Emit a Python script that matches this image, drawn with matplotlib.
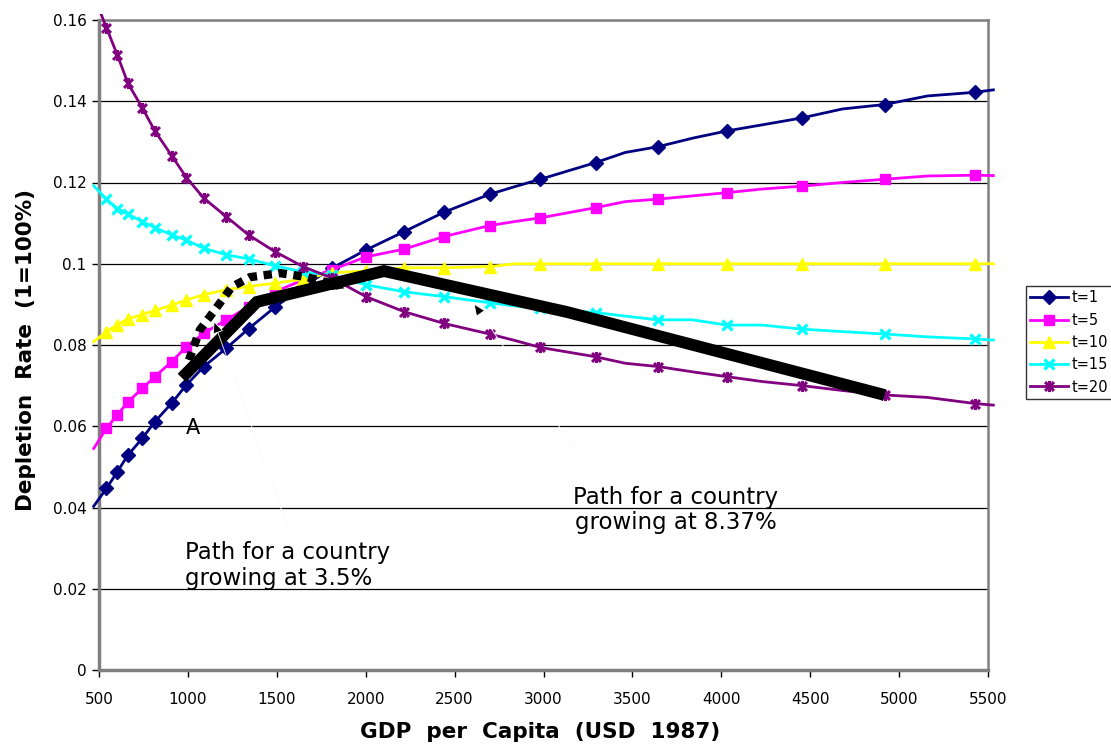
import matplotlib
matplotlib.use("Agg")
import matplotlib.pyplot as plt
from matplotlib.path import Path
from matplotlib.patches import Rectangle

plt.rcParams['font.family'] = ['DejaVu Sans']

# GDP per capita grid (USD 1987) shared by all series
gdp = [470, 542, 603, 663, 743, 814, 909, 992, 1090, 1216, 1341, 1489, 1647,
       1809, 2002, 2216, 2441, 2697, 2840, 2982, 3293, 3460, 3643, 3837, 4032,
       4231, 4454, 4681, 4919, 5159, 5425, 5530]
# grid points that carry a marker
marked = [i for i in range(len(gdp)) if i not in (0, 18, 21, 23, 25, 27, 29, 31)]

rate_t1 = [0.0403, 0.0447, 0.0488, 0.0529, 0.0570, 0.0611, 0.0657, 0.0702, 0.0747,
           0.0792, 0.0840, 0.0893, 0.0943, 0.0989, 0.1034, 0.1079, 0.1127, 0.1171,
           0.1190, 0.1208, 0.1249, 0.1274, 0.1288, 0.1309, 0.1327, 0.1342, 0.1359,
           0.1381, 0.1392, 0.1413, 0.1422, 0.1428]
rate_t5 = [0.0545, 0.0595, 0.0628, 0.0660, 0.0693, 0.0722, 0.0759, 0.0796, 0.0829,
           0.0862, 0.0894, 0.0931, 0.0960, 0.0985, 0.1017, 0.1036, 0.1067, 0.1094,
           0.1104, 0.1113, 0.1138, 0.1153, 0.1159, 0.1167, 0.1175, 0.1184, 0.1191,
           0.1200, 0.1208, 0.1216, 0.1218, 0.1217]
rate_t10 = [0.0808, 0.0833, 0.0850, 0.0864, 0.0875, 0.0885, 0.0898, 0.0911, 0.0924,
            0.0936, 0.0944, 0.0952, 0.0962, 0.0978, 0.0982, 0.0990, 0.0990, 0.0993,
            0.1000, 0.1000, 0.1000, 0.1000, 0.1000, 0.1000, 0.1000, 0.1000, 0.1000,
            0.1000, 0.1000, 0.1000, 0.1000, 0.1000]
rate_t15 = [0.1192, 0.1159, 0.1136, 0.1122, 0.1104, 0.1089, 0.1071, 0.1058, 0.1038,
            0.1022, 0.1012, 0.0995, 0.0980, 0.0972, 0.0948, 0.0931, 0.0919, 0.0904,
            0.0896, 0.0890, 0.0880, 0.0871, 0.0862, 0.0862, 0.0849, 0.0849, 0.0839,
            0.0833, 0.0827, 0.0820, 0.0815, 0.0812]
rate_t20 = [0.1660, 0.1581, 0.1514, 0.1444, 0.1384, 0.1327, 0.1266, 0.1212, 0.1161,
            0.1116, 0.1071, 0.1030, 0.0993, 0.0965, 0.0919, 0.0882, 0.0853, 0.0827,
            0.0811, 0.0794, 0.0771, 0.0755, 0.0747, 0.0734, 0.0722, 0.0710, 0.0700,
            0.0688, 0.0677, 0.0671, 0.0656, 0.0652]

series_labels = ['t=1', 't=5', 't=10', 't=15', 't=20']

# growth paths
path_fast_gdp = [966, 1388, 2103, 3134, 4918]
path_fast_rate = [0.0719, 0.0906, 0.0982, 0.0881, 0.0677]
path_slow_gdp = [1006, 1067, 1151, 1247, 1349, 1518, 1670, 1850]
path_slow_rate = [0.0763, 0.0837, 0.0886, 0.0943, 0.0967, 0.0977, 0.0967, 0.0946]

y_ticks = [0, 0.02, 0.04, 0.06, 0.08, 0.1, 0.12, 0.14, 0.16]
y_tick_labels = ['0', '0.02', '0.04', '0.06', '0.08', '0.1', '0.12', '0.14', '0.16']
x_ticks = [500, 1000, 1500, 2000, 2500, 3000, 3500, 4000, 4500, 5000, 5500]

# asterisk-like marker: an x with a vertical stroke
star_path = Path([(-1, -1), (1, 1), (-1, 1), (1, -1), (0, -1.25), (0, 1.25)],
                 [Path.MOVETO, Path.LINETO, Path.MOVETO, Path.LINETO,
                  Path.MOVETO, Path.LINETO])

styles = [
    dict(color='#000080', marker='D', ms=7.5, mew=1.0),
    dict(color='#FF00FF', marker='s', ms=7.0, mew=1.0),
    dict(color='#FFFF00', marker='^', ms=8.5, mew=1.0),
    dict(color='#00FFFF', marker='x', ms=7.5, mew=2.4),
    dict(color='#800080', marker=star_path, ms=8, mew=2.2),
]

fig = plt.figure(figsize=(11.11, 7.44), dpi=100)
ax = fig.add_axes([99 / 1111, 1 - 670 / 744, 889 / 1111, 650 / 744])

clip_rect = Rectangle((462, -0.01), 5075, 0.1715, transform=ax.transData)

for vals, lab, st in zip([rate_t1, rate_t5, rate_t10, rate_t15, rate_t20],
                         series_labels, styles):
    ln, = ax.plot(gdp, vals, color=st['color'], lw=2.0, marker=st['marker'],
                  ms=st['ms'], mew=st['mew'], mec=st['color'], mfc=st['color'],
                  markevery=marked, label=lab, clip_on=True, zorder=3)
    ln.set_clip_path(clip_rect)

# growth paths
ax.plot(path_fast_gdp, path_fast_rate, color='black', lw=8.5,
        solid_joinstyle='miter', solid_capstyle='butt', zorder=6)
ax.plot(path_slow_gdp, path_slow_rate, color='black', lw=6,
        linestyle=(0, (1.0, 0.8)), dash_capstyle='butt', zorder=6)
ax.annotate('', xy=(1895, 0.0937), xytext=(1800, 0.0952),
            arrowprops=dict(arrowstyle='-|>,head_length=0.9,head_width=0.45',
                            fc='black', ec='none', lw=0), zorder=7)

# leader arrows from the labels
ax.annotate('', xy=(1140, 0.0866), xytext=(1574, 0.0337),
            arrowprops=dict(arrowstyle='-|>,head_length=0.8,head_width=0.35',
                            fc='black', ec='#fafafa', lw=0.6), zorder=7)
ax.annotate('', xy=(2598, 0.0908), xytext=(3246, 0.0500),
            arrowprops=dict(arrowstyle='-|>,head_length=0.8,head_width=0.35',
                            fc='black', ec='#fafafa', lw=0.6), zorder=7)

ax.text(1029, 0.0596, 'A', fontsize=15, ha='center', va='center', zorder=8)
ax.text(983, 0.0258, 'Path for a country\ngrowing at 3.5%', fontsize=16.5,
        ha='left', va='center', linespacing=1.15, zorder=8)
ax.text(3742, 0.0394, 'Path for a country\ngrowing at 8.37%', fontsize=16.5,
        ha='center', va='center', linespacing=1.15, zorder=8)

ax.set_xlim(500, 5500)
ax.set_ylim(0, 0.16)
ax.set_xticks(x_ticks)
ax.set_xticklabels([str(v) for v in x_ticks])
ax.set_yticks(y_ticks)
ax.set_yticklabels(y_tick_labels)
ax.tick_params(axis='both', direction='out', length=5, width=1, color='black',
               labelsize=11, pad=4)
ax.tick_params(axis='x', pad=11)

ax.grid(axis='y', color='black', lw=0.9, zorder=1)
ax.set_axisbelow(True)
for side in ['left', 'bottom']:
    ax.spines[side].set_color('#808080')
    ax.spines[side].set_linewidth(2.5)
for side in ['top', 'right']:
    ax.spines[side].set_color('#808080')
    ax.spines[side].set_linewidth(1.8)

fig.text(540 / 1111, 1 - 732 / 744, 'GDP  per  Capita  (USD  1987)', fontsize=15.5,
         fontweight='bold', ha='center', va='center')
fig.text(26 / 1111, 1 - 350 / 744, 'Depletion  Rate  (1=100%)', fontsize=15.5,
         fontweight='bold', ha='center', va='center', rotation=90)

leg = ax.legend(loc='upper left', bbox_to_anchor=(1026 / 1111, 1 - 286 / 744),
                bbox_transform=fig.transFigure, frameon=True, fancybox=False,
                shadow=False, fontsize=10.5, handlelength=2.6, handletextpad=0.2,
                borderpad=0.3, labelspacing=0.5, borderaxespad=0, numpoints=1)
leg.get_frame().set_edgecolor('black')
leg.get_frame().set_linewidth(1.0)

fig.savefig('out.png', dpi=100)
